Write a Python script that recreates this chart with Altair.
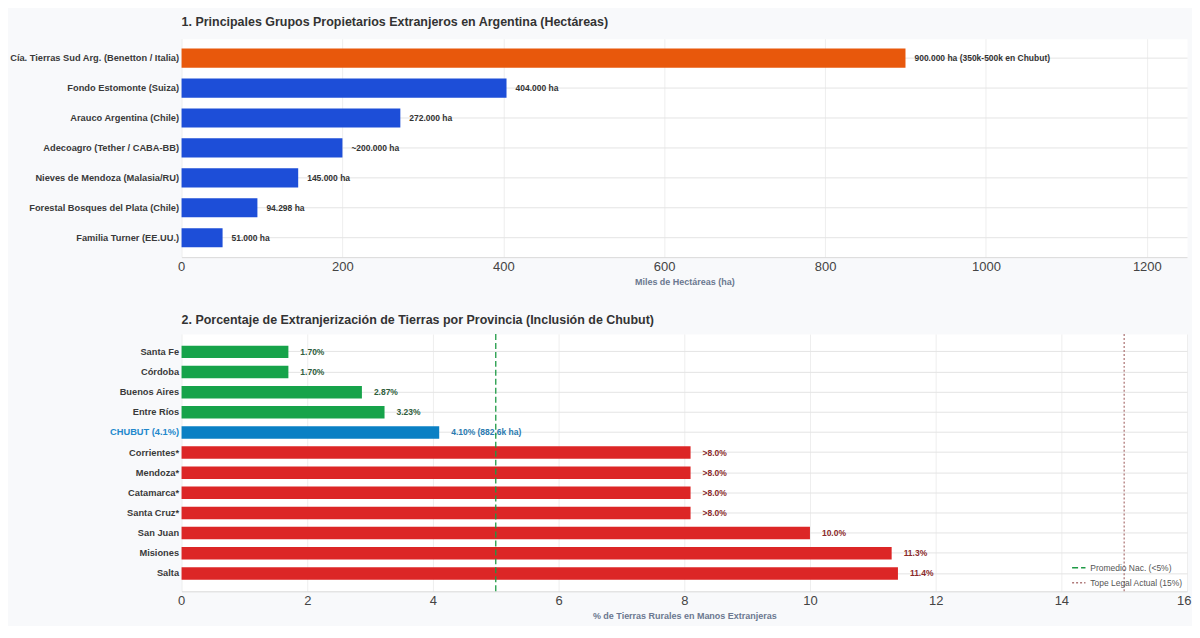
import altair as alt
import pandas as pd

# ---------- data ----------
grupos = [
    "Cía. Tierras Sud Arg. (Benetton / Italia)",
    "Fondo Estomonte (Suiza)",
    "Arauco Argentina (Chile)",
    "Adecoagro (Tether / CABA-BB)",
    "Nieves de Mendoza (Malasia/RU)",
    "Forestal Bosques del Plata (Chile)",
    "Familia Turner (EE.UU.)",
]
miles_ha = [900, 404, 272, 200, 145, 94.298, 51]
etiquetas_ha = [
    "900.000 ha (350k-500k en Chubut)",
    "404.000 ha",
    "272.000 ha",
    "~200.000 ha",
    "145.000 ha",
    "94.298 ha",
    "51.000 ha",
]
tipo_grupo = ["Destacado", "Otro", "Otro", "Otro", "Otro", "Otro", "Otro"]

provincias = [
    "Santa Fe", "Córdoba", "Buenos Aires", "Entre Ríos", "CHUBUT (4.1%)",
    "Corrientes*", "Mendoza*", "Catamarca*", "Santa Cruz*", "San Juan",
    "Misiones", "Salta",
]
porcentajes = [1.70, 1.70, 2.87, 3.23, 4.10, 8.1, 8.1, 8.1, 8.1, 10.0, 11.3, 11.4]
etiquetas_pct = [
    "1.70%", "1.70%", "2.87%", "3.23%", "4.10% (882.6k ha)",
    ">8.0%", ">8.0%", ">8.0%", ">8.0%", "10.0%", "11.3%", "11.4%",
]
nivel = ["Bajo"] * 4 + ["Chubut"] + ["Alto"] * 7

referencias = ["Promedio Nac. (<5%)", "Tope Legal Actual (15%)"]
ref_valores = [5, 15]

# ---------- styles ----------
BAR_COL_1 = {"Destacado": "#e8580c", "Otro": "#1d4ed8"}
BAR_COL_2 = {"Bajo": "#16a34a", "Chubut": "#0a80c4", "Alto": "#dc2626"}
TXT_COL_2 = {"Bajo": "#2f5e3c", "Chubut": "#2a7ab0", "Alto": "#8a2a2a"}

df1 = pd.DataFrame({"grupo": grupos, "miles": miles_ha, "etiqueta": etiquetas_ha, "tipo": tipo_grupo})
df1["col"] = df1["tipo"].map(BAR_COL_1)
df2 = pd.DataFrame({"provincia": provincias, "pct": porcentajes, "etiqueta": etiquetas_pct, "nivel": nivel})
df2["col"] = df2["nivel"].map(BAR_COL_2)
df2["tcol"] = df2["nivel"].map(TXT_COL_2)
df3 = pd.DataFrame({"ref": referencias, "valor": ref_valores})

FONT = "Liberation Sans"
W = 1008

title_kw = dict(anchor="start", frame="group", fontSize=12.5, fontWeight="bold",
                color="#333333", font=FONT)

xaxis_kw = dict(ticks=False, labelFontSize=13, labelColor="#444444", labelPadding=3,
                labelFlush=True, labelFlushOffset=4, labelOverlap=False,
                titleFontSize=9, titleFontWeight="bold", titleColor="#6b7890",
                titlePadding=4, domainColor="#d9d9d9", gridColor="#eeeeee",
                labelFont=FONT, titleFont=FONT, format="d")

yaxis_kw = dict(bandPosition=0.5, grid=True, gridColor="#e4e4e4", ticks=False,
                domain=False, labelFontSize=9.3, labelFontWeight="bold",
                labelPadding=3, labelLimit=400, labelFont=FONT)

# ---------- chart 1 ----------
y1 = alt.Y("grupo:N", sort=None, title=None,
           scale=alt.Scale(paddingInner=0.36, paddingOuter=0.33),
           axis=alt.Axis(labelColor="#3a3a3a", **yaxis_kw))
x1 = alt.X("miles:Q", scale=alt.Scale(domain=[0, 1250], nice=False),
           axis=alt.Axis(values=[0, 200, 400, 600, 800, 1000, 1200],
                         title="Miles de Hectáreas (ha)", **xaxis_kw))

base1 = alt.Chart(df1).encode(y=y1, x=x1)
bars1 = base1.mark_bar().encode(color=alt.Color("col:N", scale=None))
text1 = base1.mark_text(align="left", dx=9, fontSize=8.5, fontWeight="bold",
                        color="#333333", font=FONT).encode(text="etiqueta:N")

chart1 = alt.layer(bars1, text1).properties(
    width=W, height=219,
    title=alt.TitleParams("1. Principales Grupos Propietarios Extranjeros en Argentina (Hectáreas)",
                          offset=10, **title_kw),
)

# ---------- chart 2 ----------
y2 = alt.Y("provincia:N", sort=None, title=None,
           scale=alt.Scale(paddingInner=0.38, paddingOuter=0.58),
           axis=alt.Axis(labelColor={"expr": "datum.value == 'CHUBUT (4.1%)' ? '#2288cc' : '#3a3a3a'"},
                         **yaxis_kw))
x2 = alt.X("pct:Q", scale=alt.Scale(domain=[0, 16], nice=False),
           axis=alt.Axis(values=[0, 2, 4, 6, 8, 10, 12, 14, 16],
                         title="% de Tierras Rurales en Manos Extranjeras", **xaxis_kw))

base2 = alt.Chart(df2).encode(y=y2, x=x2)
bars2 = base2.mark_bar().encode(color=alt.Color("col:N", scale=None))
text2 = base2.mark_text(align="left", dx=12, fontSize=8.5, fontWeight="bold", font=FONT).encode(
    text="etiqueta:N",
    color=alt.Color("tcol:N", scale=None),
)

leg = alt.Legend(title=None, orient="bottom-right", offset=4, padding=0, symbolType="stroke",
                 symbolStrokeWidth=1.5, symbolSize=180, labelFontSize=8.5, labelColor="#555555",
                 labelFont=FONT, rowPadding=3)
rules = alt.Chart(df3).mark_rule(strokeWidth=1.3).encode(
    x=alt.X("valor:Q"),
    color=alt.Color("ref:N", scale=alt.Scale(domain=referencias, range=["#1e9a45", "#b07a7a"]), legend=leg),
    strokeDash=alt.StrokeDash("ref:N", scale=alt.Scale(domain=referencias, range=[[6, 3], [2, 2]]), legend=leg),
)

chart2 = alt.layer(bars2, text2, rules).properties(
    width=W, height=258,
    title=alt.TitleParams("2. Porcentaje de Extranjerización de Tierras por Provincia (Inclusión de Chubut)",
                          offset=7, **title_kw),
)

chart = alt.vconcat(chart1, chart2, spacing=26).resolve_legend(
    color="independent", strokeDash="independent"
).resolve_scale(
    color="independent", strokeDash="independent"
).properties(
    background="#f8f9fb",
    padding={"left": 0, "top": 7, "right": 0, "bottom": 4},
).configure_view(fill="white", stroke="transparent")

chart.save("out.html", embed_options={"renderer": "svg", "actions": False})
